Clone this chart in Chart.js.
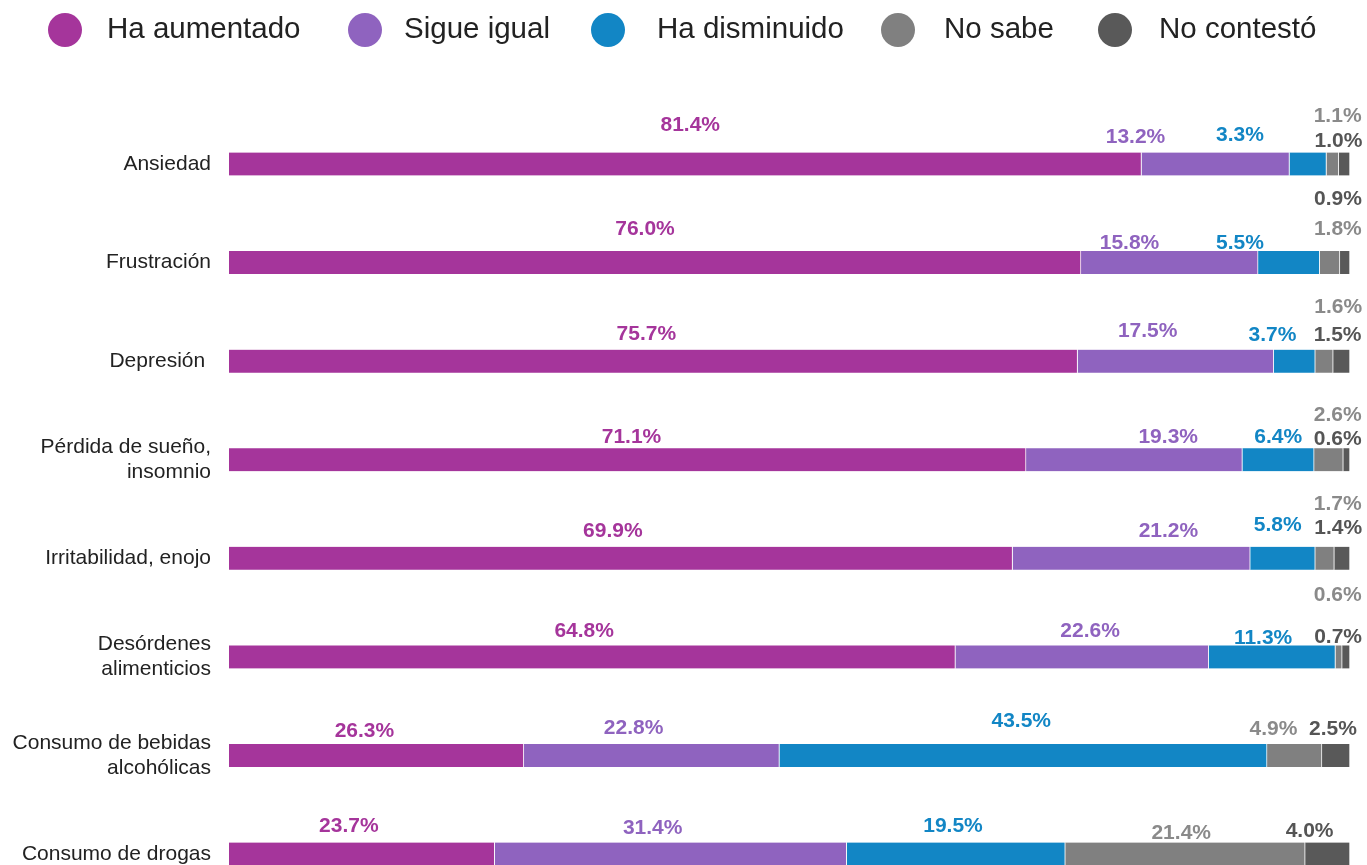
<!DOCTYPE html>
<html><head><meta charset="utf-8">
<script src="https://cdn.jsdelivr.net/npm/chart.js@4/dist/chart.umd.min.js"></script>
<style>html,body{margin:0;padding:0;background:#fff;overflow:hidden;}canvas{display:block;}</style>
</head><body>
<canvas id="c" width="1367" height="934"></canvas>
<script>
const categories = [['Ansiedad'], ['Frustración'], ['Depresión '], ['Pérdida de sueño,', 'insomnio'], ['Irritabilidad, enojo'], ['Desórdenes', 'alimenticios'], ['Consumo de bebidas', 'alcohólicas'], ['Consumo de drogas']];
const seriesNames = ['Ha aumentado', 'Sigue igual', 'Ha disminuido', 'No sabe', 'No contestó'];
const haAumentado  = [81.4, 76.0, 75.7, 71.1, 69.9, 64.8, 26.3, 23.7];
const sigueIgual   = [13.2, 15.8, 17.5, 19.3, 21.2, 22.6, 22.8, 31.4];
const haDisminuido = [3.3, 5.5, 3.7, 6.4, 5.8, 11.3, 43.5, 19.5];
const noSabe       = [1.1, 1.8, 1.6, 2.6, 1.7, 0.6, 4.9, 21.4];
const noContesto   = [1.0, 0.9, 1.5, 0.6, 1.4, 0.7, 2.5, 4.0];

const colors = ['#A5359B', '#8F63BF', '#1286C5', '#808080', '#595959'];
const labelColors = ['#A5359B', '#8F63BF', '#1286C5', '#8A8A8A', '#555555'];
// label nudges [dx, dy] relative to segment centre (per category, per series)
const labelNudges = [
  [[5,-39],[-80,-27],[-68,-29],[5,-48],[-6,-23]],
  [[-10,-33],[-40,-19],[-49,-19],[8,-33],[-7,-63]],
  [[-7,-27],[-28,-30],[-22,-26],[14,-54],[-4,-26]],
  [[4,-23],[34,-23],[0,-23],[9,-45],[-9,-21]],
  [[-8,-27],[37,-27],[-5,-33],[13,-54],[-4,-30]],
  [[-8,-26],[8,-26],[-9,-19],[-1,-62],[-8,-20]],
  [[-12,-24],[-18,-27],[-2,-34],[-21,-26],[-3,-26]],
  [[-13,-28],[-18,-26],[-3,-28],[-4,-21],[-18,-23]]
];
// legend layout: marker centre x and text start x per item
const legendMarkerX = [65, 365, 608, 898, 1115];
const legendTextX = [107, 404, 657, 944, 1159];

const seriesData = [haAumentado, sigueIgual, haDisminuido, noSabe, noContesto];
const datasets = seriesData.map((d, i) => ({
  label: seriesNames[i],
  data: d,
  backgroundColor: colors[i],
  borderColor: 'rgba(255,255,255,0.75)',
  borderWidth: {left: 0, right: 1, top: 0, bottom: 0},
  borderSkipped: false,
  barThickness: 23
}));

const valueLabels = {
  id: 'valueLabels',
  afterDatasetsDraw(chart) {
    const ctx = chart.ctx;
    ctx.save();
    ctx.font = 'bold 21px "Liberation Sans", Arial, sans-serif';
    ctx.textAlign = 'center';
    ctx.textBaseline = 'middle';
    chart.data.datasets.forEach((ds, i) => {
      const meta = chart.getDatasetMeta(i);
      meta.data.forEach((el, j) => {
        const n = labelNudges[j][i];
        const cx = (el.x + el.base) / 2 + n[0];
        const cy = el.y + n[1];
        ctx.fillStyle = labelColors[i];
        ctx.fillText(ds.data[j].toFixed(1) + '%', cx, cy);
      });
    });
    ctx.restore();
  }
};

const topLegend = {
  id: 'topLegend',
  afterDraw(chart) {
    const ctx = chart.ctx;
    ctx.save();
    ctx.font = '29.5px "Liberation Sans", Arial, sans-serif';
    ctx.textBaseline = 'middle';
    ctx.textAlign = 'left';
    const cy = 30;
    chart.data.datasets.forEach((ds, i) => {
      ctx.fillStyle = ds.backgroundColor;
      ctx.beginPath();
      ctx.ellipse(legendMarkerX[i], cy, 17, 17, 0, 0, Math.PI * 2);
      ctx.fill();
      ctx.fillStyle = '#222222';
      ctx.fillText(ds.label, legendTextX[i], cy);
    });
    ctx.restore();
  }
};

new Chart(document.getElementById('c'), {
  type: 'bar',
  data: { labels: categories, datasets },
  options: {
    indexAxis: 'y',
    responsive: false,
    animation: false,
    layout: { padding: { left: 0, right: 17, top: 114.7, bottom: 16.7 } },
    plugins: { legend: { display: false }, tooltip: { enabled: false } },
    scales: {
      x: { stacked: true, min: 0, max: 100, display: false },
      y: {
        stacked: true,
        grid: { display: false, drawTicks: false },
        border: { display: false },
        ticks: {
          color: '#222222',
          padding: 18,
          font: { family: '"Liberation Sans", Arial, sans-serif', size: 21, lineHeight: 1.2 }
        },
        afterFit(scale) { scale.width = 229; }
      }
    }
  },
  plugins: [valueLabels, topLegend]
});
</script>
</body></html>
